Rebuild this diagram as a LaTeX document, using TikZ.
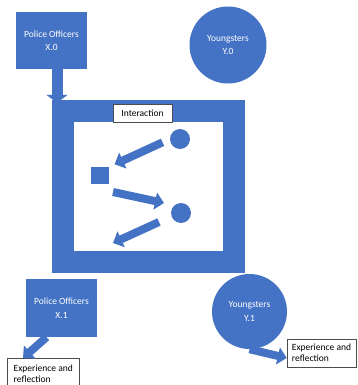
\documentclass[tikz,border=0pt]{standalone}
\usepackage{fontspec}
\setmainfont{Carlito}
\usetikzlibrary{arrows.meta, positioning}
\definecolor{officeblue}{HTML}{4472C4}

\begin{document}
\begin{tikzpicture}[x=1pt, y=-1pt,
    actor/.style={rectangle, fill=officeblue, text=white, align=center, font=\fontsize{9.5}{13.5}\selectfont},
    bubble/.style={circle, fill=officeblue, text=white, align=center, font=\fontsize{9.5}{13.5}\selectfont, inner sep=0pt},
    note/.style={rectangle, draw=black!70, fill=white, line width=0.6pt, font=\fontsize{9.5}{11}\selectfont},
    bigarrow/.style={officeblue, line width=11pt, -{Triangle[width=21pt, length=8pt]}},
    smallarrow/.style={officeblue, line width=8pt, -{Triangle[width=17pt, length=9pt]}}]
    \useasboundingbox (0,0) rectangle (357,385);

    % first round
    \node[actor, minimum width=71pt, minimum height=57pt] (x0) at (51.5,40.5) {Police Officers\\X.0};
    \node[bubble, minimum size=77pt] (y0) at (228,45) {Youngsters\\Y.0};

    % interaction frame
    \node[fill=officeblue, minimum width=193pt, minimum height=173pt, inner sep=0pt] (frame) at (148.5,186.5) {};
    \node[fill=white, minimum width=149pt, minimum height=129pt, inner sep=0pt] (stage) at (frame.center) {};
    \node[note, minimum width=59pt, minimum height=18pt, inner sep=0pt] (inter) at (142.5,113) {Interaction};
    \node[circle, fill=officeblue, minimum size=20pt, inner sep=0pt] (c1) at (180,139) {};
    \node[rectangle, fill=officeblue, minimum width=18pt, minimum height=17pt, inner sep=0pt] (sq) at (100,175.5) {};
    \node[circle, fill=officeblue, minimum size=20pt, inner sep=0pt] (c2) at (181,213) {};
    \coordinate (a2s) at (113,192);
    \coordinate (a2e) at (164,203);
    \coordinate (a3s) at (159,222);
    \coordinate (a3e) at (113,243);

    \draw[bigarrow] ([xshift=5.5pt]x0.south) -- ([xshift=5.5pt,yshift=-3pt]x0.south |- frame.north);
    \draw[smallarrow, shorten <=8pt, shorten >=6pt] (c1.west) -- (sq.north east);
    \draw[smallarrow] (a2s) -- (a2e);
    \draw[smallarrow] (a3s) -- (a3e);

    % second round
    \node[actor, minimum width=71pt, minimum height=58pt] (x1) at (61.5,308) {Police Officers\\X.1};
    \node[bubble, minimum size=75pt] (y1) at (249.5,311.5) {Youngsters\\Y.1};
    \node[note, anchor=north west, minimum width=72pt, minimum height=30pt, inner sep=3pt, align=left] (e1) at (7,358) {Experience and\\reflection};
    \node[note, minimum width=69pt, minimum height=28pt, inner sep=3pt, align=left] (e2) at (321.5,353) {Experience and\\reflection};

    \draw[smallarrow] ([xshift=-15pt]x1.south) -- ([xshift=16pt]e1.north west);
    \draw[smallarrow] (y1.south) -- ([yshift=-5pt]e2.west);
\end{tikzpicture}
\end{document}
